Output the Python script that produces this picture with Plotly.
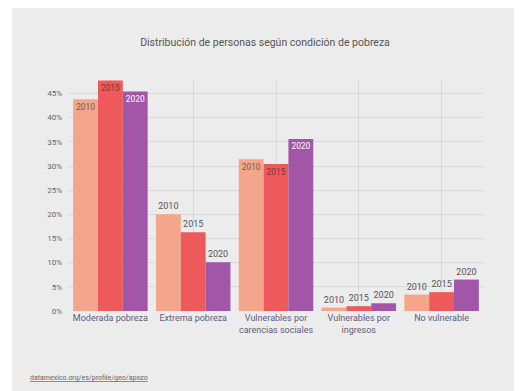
import plotly.graph_objects as go

categories = ["Moderada pobreza", "Extrema pobreza", "Vulnerables por<br>carencias sociales",
              "Vulnerables por<br>ingresos", "No vulnerable"]
years = ["2010", "2015", "2020"]
values_2010 = [43.8, 20.0, 31.4, 0.7, 3.4]
values_2015 = [47.7, 16.3, 30.4, 1.0, 3.9]
values_2020 = [45.4, 10.1, 35.6, 1.6, 6.5]
y_tick_vals = [0, 5, 10, 15, 20, 25, 30, 35, 40, 45]
y_tick_text = ["0%", "5%", "10%", "15%", "20%", "25%", "30%", "35%", "40%", "45%"]
title_text = "Distribución de personas según condición de pobreza"
source_text = "datamexico.org/es/profile/geo/apozo"

colors = ["#F3A68B", "#EE5A5B", "#A256A8"]
inside_colors = ["#7a5548", "#7a3434", "#ffffff"]
positions = ["inside", "outside", "inside", "outside", "outside"]
FONT = "Roboto"

fig = go.Figure()
for yr, vals, c, ic in zip(years, [values_2010, values_2015, values_2020], colors, inside_colors):
    fig.add_trace(go.Bar(
        x=categories, y=vals, name=yr, marker=dict(color=c, line=dict(width=0)),
        text=[yr] * len(vals), textposition=positions, insidetextanchor="end", textangle=0,
        insidetextfont=dict(family=FONT, size=9, color=ic),
        outsidetextfont=dict(family=FONT, size=9, color="#555555"),
        cliponaxis=False, hoverinfo="skip",
    ))

# page has an 8px body margin; figure coordinates below are screen coordinates minus 8
W, H = 514, 383
L, R, T, B = 61, 39, 71, 80
pw, ph = W - L - R, H - T - B

def px_x(px):
    return (px - L) / pw

def px_y(py):
    return (H - B - py) / ph

fig.update_layout(
    width=W, height=H,
    margin=dict(l=L, r=R, t=T, b=B, pad=0),
    paper_bgcolor="#ececec", plot_bgcolor="#ececec",
    barmode="group", bargap=0.1, bargroupgap=0,
    showlegend=False,
    font=dict(family=FONT, color="#555555"),
    title=dict(text=title_text, x=0.5, xanchor="center", y=1 - 34 / H, yanchor="middle",
               font=dict(family=FONT, size=10.5, color="#555555")),
    xaxis=dict(showgrid=True, gridcolor="#d9d9d9", gridwidth=1, showline=False, ticks="",
               automargin=False,
               tickfont=dict(family=FONT, size=9, color="#5c5c7a"), fixedrange=True),
    yaxis=dict(range=[0, 48], tickvals=y_tick_vals, ticktext=y_tick_text, showgrid=True,
               gridcolor="#d9d9d9", gridwidth=1, zeroline=False, showline=False, ticks="",
               ticklabelstandoff=6, automargin=False,
               tickfont=dict(family=FONT, size=8, color="#666666"), fixedrange=True),
    shapes=[
        dict(type="rect", xref="paper", yref="paper", x0=px_x(-5), x1=px_x(4),
             y0=px_y(H + 5), y1=px_y(-5), fillcolor="#ffffff", line=dict(width=0), layer="above"),
    ],
    annotations=[
        dict(text="<u>" + source_text + "</u>", xref="paper", yref="paper",
             x=px_x(20), y=px_y(370), xanchor="left", yanchor="middle", showarrow=False,
             font=dict(family=FONT, size=7, color="#666666")),
    ],
)

fig.write_html("out.html")
